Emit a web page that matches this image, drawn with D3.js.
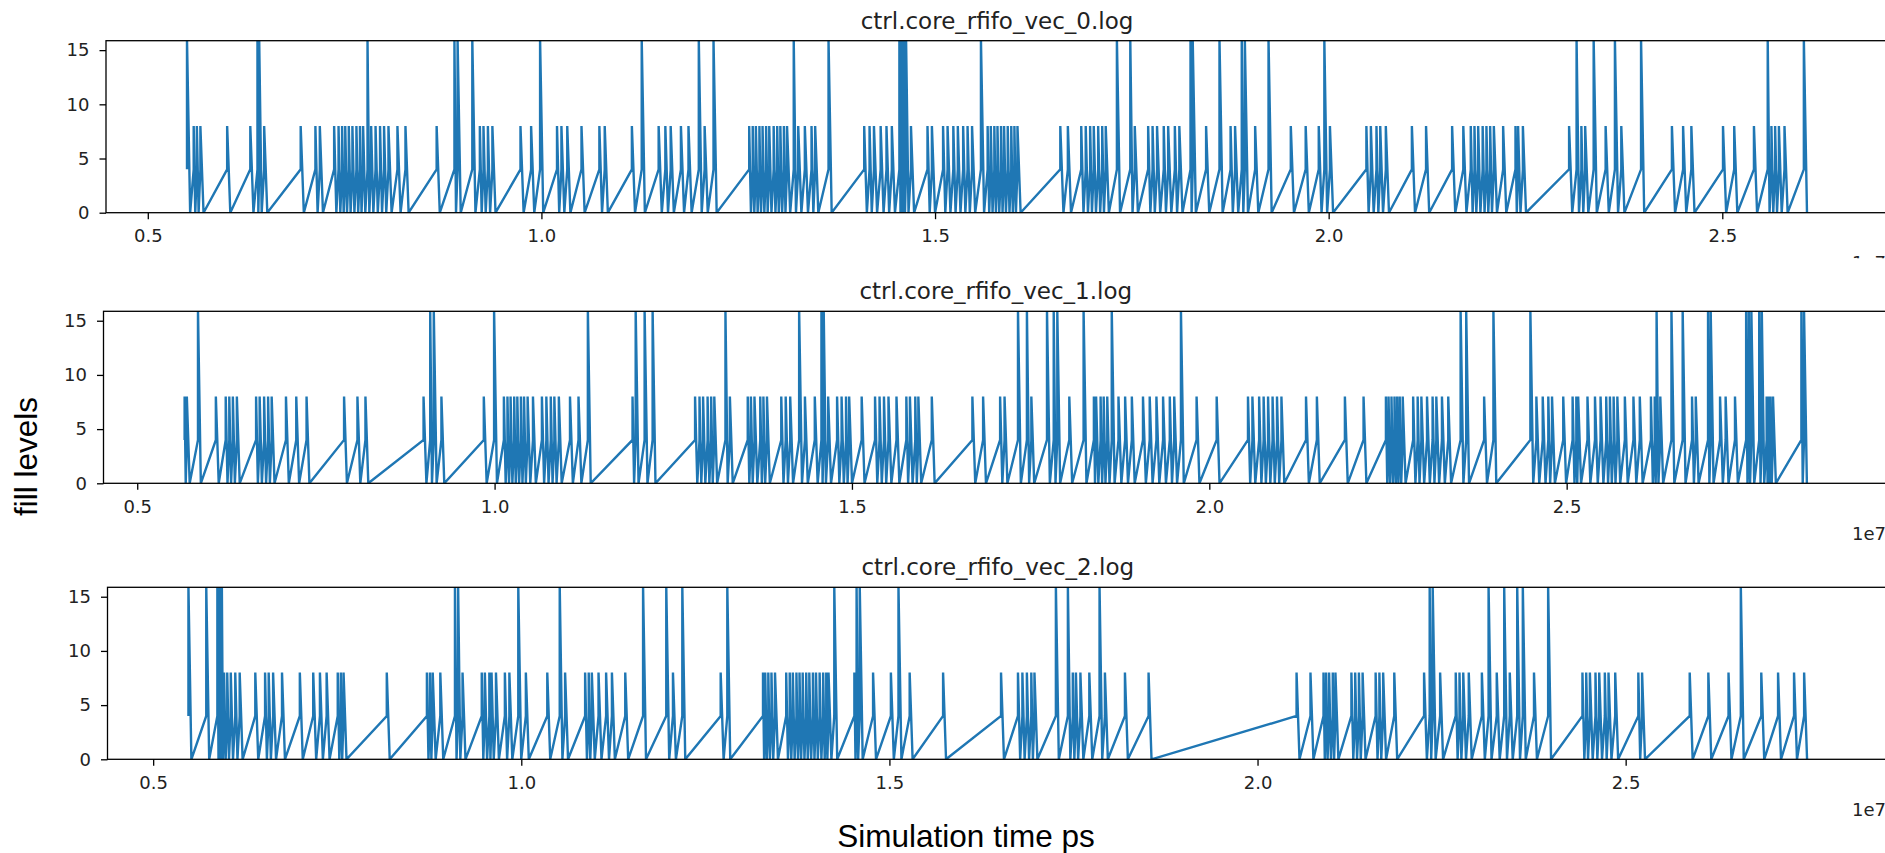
<!DOCTYPE html>
<meta charset="utf-8">
<style>

body { margin: 0; overflow: hidden; background: #fff; }
svg { display: block; }

.line {
  fill: none;
  stroke: #1f77b4;
  stroke-width: 2.4px;
}
.tick text { font-family: "DejaVu Sans", sans-serif; font-size: 18px; fill: #222; }
.tick line { stroke: #000; stroke-width: 1.3px; }
.title { font-family: "DejaVu Sans", sans-serif; font-size: 23px; fill: #222; }
.offset { font-family: "DejaVu Sans", sans-serif; font-size: 18px; fill: #222; }
.label { font-family: "Liberation Sans", Arial, sans-serif; font-size: 31.5px; fill: #000; }
.frame { fill: none; stroke: #000; stroke-width: 1.3px; }

</style>
<body>

<!-- load the d3.js library -->
<script src="https://cdn.jsdelivr.net/npm/d3@7"></script>
<script>

// fifo events: [time in 1e7 ps, peak fill level]
// every event logs level 4, then the peak, then drops back to 0
var vec0 = [
  [0.5498,16],[0.5583,8],[0.5623,8],[0.5668,8],[0.6008,8],[0.6302,8],[0.6393,16],[0.6415,16],[0.6478,8],
  [0.6942,8],[0.7129,8],[0.7185,8],[0.7367,8],[0.7423,8],[0.7468,8],[0.7508,8],[0.7553,8],[0.7599,8],
  [0.7650,8],[0.7695,8],[0.7735,8],[0.7791,16],[0.7837,8],[0.7893,8],[0.7950,8],[0.8001,8],[0.8057,8],
  [0.8171,8],[0.8273,8],[0.8669,8],[0.8895,16],[0.8935,16],[0.9122,16],[0.9218,8],[0.9264,8],[0.9320,8],
  [0.9377,8],[0.9734,8],[0.9869,8],[0.9983,16],[1.0198,8],[1.0254,8],[1.0328,8],[1.0509,8],[1.0736,8],
  [1.0804,8],[1.1149,8],[1.1274,16],[1.1489,8],[1.1574,8],[1.1642,8],[1.1772,8],[1.1868,8],[1.1999,16],
  [1.2073,8],[1.2186,16],[1.2639,8],[1.2684,8],[1.2724,8],[1.2769,8],[1.2809,8],[1.2854,8],[1.2894,8],
  [1.2950,8],[1.2995,8],[1.3035,8],[1.3080,8],[1.3120,8],[1.3205,16],[1.3262,8],[1.3346,8],[1.3431,8],
  [1.3477,8],[1.3647,16],[1.4100,8],[1.4168,8],[1.4224,8],[1.4309,8],[1.4383,8],[1.4451,8],[1.4547,16],
  [1.4575,16],[1.4604,16],[1.4632,16],[1.4694,8],[1.4904,8],[1.4960,8],[1.5102,8],[1.5159,8],[1.5232,8],
  [1.5289,8],[1.5357,8],[1.5413,8],[1.5470,8],[1.5583,16],[1.5668,8],[1.5708,8],[1.5753,8],[1.5793,8],
  [1.5838,8],[1.5877,8],[1.5923,8],[1.5968,8],[1.6008,8],[1.6047,8],[1.6591,8],[1.6687,8],[1.6857,8],
  [1.6914,8],[1.6970,8],[1.7016,8],[1.7072,8],[1.7123,8],[1.7168,8],[1.7310,16],[1.7480,16],[1.7537,8],
  [1.7707,8],[1.7763,8],[1.7820,8],[1.7905,8],[1.7961,8],[1.8046,8],[1.8103,8],[1.8245,16],[1.8273,16],
  [1.8443,8],[1.8613,16],[1.8754,8],[1.8811,8],[1.8896,16],[1.8935,16],[1.9066,8],[1.9236,16],[1.9519,8],
  [1.9708,8],[1.9874,8],[1.9945,16],[2.0016,8],[2.0479,8],[2.0536,8],[2.0607,8],[2.0655,8],[2.0726,8],
  [2.1057,8],[2.1237,8],[2.1568,8],[2.1710,8],[2.1805,8],[2.1852,8],[2.1899,8],[2.1956,8],[2.2004,8],
  [2.2051,8],[2.2098,8],[2.2216,8],[2.2373,8],[2.2406,8],[2.2467,8],[2.3054,8],[2.3149,16],[2.3210,8],
  [2.3258,8],[2.3366,16],[2.3518,8],[2.3636,16],[2.3717,8],[2.3968,16],[2.4360,8],[2.4502,8],[2.4607,8],
  [2.5009,8],[2.5151,8],[2.5402,8],[2.5577,16],[2.5624,8],[2.5671,8],[2.5719,8],[2.5790,8],[2.6036,16]
];

var vec1 = [
  [0.5663,8],[0.5694,8],[0.5850,16],[0.6100,8],[0.6238,8],[0.6288,8],[0.6338,8],[0.6394,8],[0.6663,8],
  [0.6713,8],[0.6775,8],[0.6831,8],[0.6881,8],[0.7081,8],[0.7225,8],[0.7369,8],[0.7894,8],[0.8081,8],
  [0.8193,8],[0.9006,8],[0.9099,16],[0.9149,16],[0.9256,8],[0.9849,8],[0.9993,16],[1.0130,8],[1.0180,8],
  [1.0224,8],[1.0274,8],[1.0318,8],[1.0368,8],[1.0412,8],[1.0462,8],[1.0537,8],[1.0662,8],[1.0724,8],
  [1.0786,8],[1.0836,8],[1.0899,8],[1.1055,8],[1.1174,8],[1.1305,16],[1.1930,8],[1.1974,16],[1.2099,16],
  [1.2211,16],[1.2805,8],[1.2867,8],[1.2917,8],[1.2980,8],[1.3030,8],[1.3074,8],[1.3230,16],[1.3292,8],
  [1.3542,8],[1.3586,8],[1.3636,8],[1.3717,8],[1.3761,8],[1.3811,8],[1.4011,8],[1.4073,8],[1.4136,8],
  [1.4261,16],[1.4342,8],[1.4480,8],[1.4573,16],[1.4605,16],[1.4667,8],[1.4792,8],[1.4855,8],[1.4917,8],
  [1.4961,8],[1.5136,8],[1.5323,8],[1.5386,8],[1.5448,8],[1.5511,8],[1.5623,8],[1.5761,8],[1.5811,8],
  [1.5886,8],[1.5929,8],[1.6117,8],[1.6685,8],[1.6835,8],[1.7073,8],[1.7135,8],[1.7323,16],[1.7448,16],
  [1.7510,8],[1.7729,16],[1.7823,16],[1.7873,16],[1.8041,8],[1.8241,16],[1.8385,8],[1.8416,8],[1.8479,8],
  [1.8522,8],[1.8572,8],[1.8635,16],[1.8729,8],[1.8822,8],[1.8916,8],[1.9072,8],[1.9166,8],[1.9260,8],
  [1.9353,8],[1.9447,8],[1.9509,8],[1.9603,16],[1.9822,8],[2.0103,8],[2.0541,8],[2.0603,8],[2.0697,8],
  [2.0760,8],[2.0822,8],[2.0885,8],[2.0947,8],[2.1009,8],[2.1353,8],[2.1505,8],[2.1897,8],[2.2158,8],
  [2.2471,8],[2.2508,8],[2.2549,8],[2.2591,8],[2.2628,8],[2.2664,8],[2.2706,8],[2.2852,8],[2.2915,8],
  [2.2967,8],[2.3046,8],[2.3124,8],[2.3176,8],[2.3255,8],[2.3343,8],[2.3516,16],[2.3594,16],[2.3845,8],
  [2.3975,16],[2.4492,16],[2.4576,8],[2.4665,8],[2.4743,8],[2.4795,8],[2.4952,8],[2.5083,8],[2.5135,8],
  [2.5161,8],[2.5291,8],[2.5396,8],[2.5474,8],[2.5553,8],[2.5605,8],[2.5657,8],[2.5709,8],[2.5814,8],
  [2.5934,8],[2.6023,8],[2.6179,8],[2.6232,8],[2.6258,16],[2.6310,8],[2.6466,16],[2.6623,16],[2.6754,8],
  [2.6806,8],[2.6978,16],[2.7015,16],[2.7146,8],[2.7224,8],[2.7355,8],[2.7511,16],[2.7548,16],[2.7584,16],
  [2.7694,16],[2.7730,16],[2.7798,8],[2.7824,8],[2.7851,8],[2.7887,8],[2.8284,16],[2.8321,16]
];

var vec2 = [
  [0.5479,16],[0.5721,16],[0.5872,16],[0.5903,16],[0.5933,16],[0.5963,8],[0.6006,8],[0.6054,8],[0.6115,8],
  [0.6175,8],[0.6387,8],[0.6520,8],[0.6569,8],[0.6629,8],[0.6750,8],[0.6992,8],[0.7174,8],[0.7265,8],
  [0.7356,8],[0.7507,8],[0.7549,8],[0.7586,8],[0.8173,8],[0.8718,8],[0.8760,8],[0.8797,8],[0.8900,8],
  [0.9099,16],[0.9142,16],[0.9202,8],[0.9463,8],[0.9505,8],[0.9566,8],[0.9596,8],[0.9656,8],[0.9777,8],
  [0.9838,8],[0.9959,16],[1.0062,8],[1.0353,8],[1.0522,16],[1.0595,8],[1.0867,8],[1.0916,8],[1.0958,8],
  [1.1049,8],[1.1152,8],[1.1231,8],[1.1412,8],[1.1654,16],[1.1969,16],[1.2060,8],[1.2187,16],[1.2708,8],
  [1.2798,16],[1.3283,8],[1.3313,8],[1.3355,8],[1.3398,8],[1.3446,8],[1.3598,8],[1.3646,8],[1.3688,8],
  [1.3737,8],[1.3779,8],[1.3822,8],[1.3870,8],[1.3912,8],[1.3961,8],[1.4003,8],[1.4052,8],[1.4100,8],
  [1.4142,8],[1.4173,8],[1.4251,16],[1.4524,8],[1.4554,16],[1.4597,16],[1.4778,8],[1.5020,8],[1.5123,16],
  [1.5275,8],[1.5729,8],[1.6516,8],[1.6746,8],[1.6806,8],[1.6867,8],[1.6927,8],[1.6970,8],[1.7261,16],
  [1.7424,16],[1.7491,8],[1.7533,8],[1.7594,8],[1.7715,8],[1.7854,16],[1.7927,8],[1.8199,8],[1.8520,8],
  [2.0530,8],[2.0719,8],[2.0896,8],[2.0931,8],[2.0972,8],[2.1022,8],[2.1058,8],[2.1275,8],[2.1326,8],
  [2.1377,8],[2.1427,8],[2.1604,8],[2.1655,8],[2.1706,8],[2.1857,8],[2.2262,8],[2.2338,16],[2.2379,16],
  [2.2480,8],[2.2692,8],[2.2743,8],[2.2794,8],[2.2869,8],[2.3047,8],[2.3138,16],[2.3249,8],[2.3350,16],
  [2.3426,8],[2.3527,16],[2.3603,16],[2.3755,8],[2.3947,16],[2.4413,8],[2.4464,8],[2.4514,8],[2.4590,8],
  [2.4641,8],[2.4717,8],[2.4767,8],[2.4858,8],[2.5172,8],[2.5223,8],[2.5870,8],[2.6123,8],[2.6397,8],
  [2.6564,16],[2.6842,8],[2.7070,8],[2.7287,8],[2.7424,8]
];

var titles = ["ctrl.core_rfifo_vec_0.log", "ctrl.core_rfifo_vec_1.log", "ctrl.core_rfifo_vec_2.log"];
var xTicks = [0.5, 1.0, 1.5, 2.0, 2.5];
var yTicks = [0, 5, 10, 15];
var baseLevel = 4;      // level logged when an event starts
var fallTime = 0.004;   // time until the fifo is empty again
var yMax = 15.87;

// set the dimensions of the page and of each subplot
var width = 1885, height = 853;
var right = 1888;   // right spine sits just outside the picture
var panels = [
  {data: vec0, left: 106,   top: 40.7,  bottom: 212.7, clipOffset: true},
  {data: vec1, left: 103.5, top: 311.3, bottom: 483.3, clipOffset: false},
  {data: vec2, left: 107.5, top: 587.3, bottom: 759.3, clipOffset: false}
];

var svg = d3.select("body").append("svg")
    .attr("width", width)
    .attr("height", height);

var defs = svg.append("defs");

// turn events into the logged sawtooth
function toPoints(events) {
  var pts = [];
  events.forEach(function(e, i) {
    var next = i < events.length - 1 ? events[i + 1][0] : Infinity;
    var fall = Math.min(fallTime, (next - e[0]) / 2);
    pts.push([e[0], baseLevel]);
    pts.push([e[0], e[1]]);
    pts.push([e[0] + fall, 0]);
  });
  return pts;
}

panels.forEach(function(p, i) {
  var points = toPoints(p.data);

  // matplotlib style 5% margin around the data
  var ext = d3.extent(points, function(d) { return d[0]; });
  var pad = (ext[1] - ext[0]) * 0.05;
  var x = d3.scaleLinear().domain([ext[0] - pad, ext[1] + pad]).range([p.left, right]);
  var y = d3.scaleLinear().domain([0, yMax]).range([p.bottom, p.top]);

  var g = svg.append("g");

  defs.append("clipPath").attr("id", "clip" + i)
    .append("rect")
      .attr("x", p.left).attr("y", p.top)
      .attr("width", right - p.left).attr("height", p.bottom - p.top);

  var valueline = d3.line()
      .x(function(d) { return x(d[0]); })
      .y(function(d) { return y(d[1]); });

  g.append("path")
      .datum(points)
      .attr("class", "line")
      .attr("clip-path", "url(#clip" + i + ")")
      .attr("d", valueline);

  // Add the X Axis
  var xAxis = g.append("g")
      .attr("transform", "translate(0," + p.bottom + ")")
      .call(d3.axisBottom(x).tickValues(xTicks).tickFormat(d3.format(".1f"))
        .tickSize(6.5).tickSizeOuter(0).tickPadding(10));
  xAxis.select(".domain").remove();
  xAxis.selectAll("text").attr("font-family", null).attr("font-size", null);

  // Add the Y Axis
  var yAxis = g.append("g")
      .attr("transform", "translate(" + p.left + ",0)")
      .call(d3.axisLeft(y).tickValues(yTicks).tickSize(6.5).tickSizeOuter(0).tickPadding(10));
  yAxis.select(".domain").remove();
  yAxis.selectAll("text").attr("font-family", null).attr("font-size", null);

  // axes frame
  g.append("rect")
      .attr("class", "frame")
      .attr("x", p.left).attr("y", p.top)
      .attr("width", right - p.left).attr("height", p.bottom - p.top);

  g.append("text")
      .attr("class", "title")
      .attr("x", (p.left + right) / 2)
      .attr("y", p.top - 12)
      .attr("text-anchor", "middle")
      .text(titles[i]);

  // offset text of the x axis
  var off = g.append("text")
      .attr("class", "offset")
      .attr("x", 1886)
      .attr("y", p.bottom + 56.5)
      .attr("text-anchor", "end")
      .text("1e7");
  if (p.clipOffset) {
    defs.append("clipPath").attr("id", "offclip" + i)
      .append("rect").attr("x", 0).attr("y", 0).attr("width", width).attr("height", p.bottom + 45.5);
    off.attr("clip-path", "url(#offclip" + i + ")");
  }
});

svg.append("text")
    .attr("class", "label")
    .attr("transform", "translate(37.3,456.5) rotate(-90)")
    .attr("text-anchor", "middle")
    .text("fill levels");

svg.append("text")
    .attr("class", "label")
    .attr("x", 966)
    .attr("y", 846.5)
    .attr("text-anchor", "middle")
    .text("Simulation time ps");

</script>
</body>
